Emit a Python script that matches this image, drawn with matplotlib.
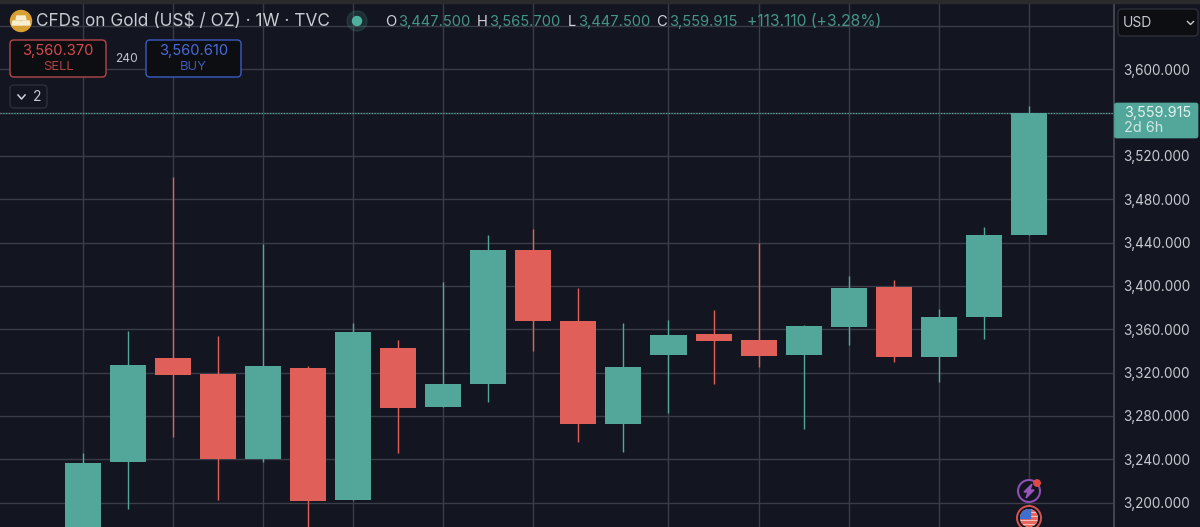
import matplotlib
matplotlib.use("Agg")
import matplotlib.pyplot as plt
from matplotlib.patches import Circle, FancyBboxPatch, Polygon, Rectangle

plt.rcParams['font.family'] = ['Inter', 'DejaVu Sans']

# weekly candles, oldest first (first open and sixth low run off the bottom of the chart)
opens = [3170.0, 3237.8, 3333.5, 3318.7, 3240.0, 3324.3, 3202.4, 3343.0, 3288.6, 3309.2, 3433.2,
         3367.4, 3272.9, 3336.3, 3355.2, 3349.8, 3336.3, 3361.8, 3398.8, 3334.7, 3371.0, 3447.5]
highs = [3245.5, 3358.2, 3500.9, 3353.8, 3438.7, 3326.1, 3365.5, 3350.1, 3403.7, 3447.0, 3452.6,
         3398.1, 3365.8, 3368.6, 3377.8, 3439.4, 3364.0, 3409.2, 3405.2, 3378.7, 3454.2, 3565.7]
lows = [3160.0, 3193.8, 3260.9, 3202.4, 3237.8, 3165.0, 3202.4, 3245.5, 3288.0, 3293.2, 3340.0,
        3255.7, 3247.0, 3282.5, 3309.8, 3325.2, 3268.2, 3345.2, 3329.8, 3311.6, 3351.0, 3447.5]
closes = [3236.9, 3326.8, 3318.1, 3240.0, 3326.1, 3201.2, 3357.5, 3287.8, 3309.2, 3433.2, 3367.4,
          3272.9, 3325.2, 3354.7, 3349.2, 3335.6, 3362.8, 3398.1, 3334.7, 3371.4, 3446.8, 3559.915]

price_ticks = [3200, 3240, 3280, 3320, 3360, 3400, 3440, 3480, 3520, 3560, 3600, 3640]
price_labels = ["3,200.000", "3,240.000", "3,280.000", "3,320.000", "3,360.000", "3,400.000",
                "3,440.000", "3,480.000", "3,520.000", "", "3,600.000", ""]
time_grid = [0, 2, 4, 6, 8, 10, 13, 15, 17, 19, 21]
last_price = 3559.915

BG = "#131621"
GRID = "#3a3d48"
TEAL = "#53a69a"
RED = "#e05f58"
TEXT = "#c8cad0"

fig = plt.figure(figsize=(12, 5.27), dpi=100, facecolor=BG)

# main chart, 1114px wide, top strip left out
ax = fig.add_axes([0, 0, 1114 / 1200, 524 / 527], facecolor=BG)
ax.set_xlim(-82.7 / 45.06, (1114 - 82.7) / 45.06)
ax.set_ylim(3177.5, 3661.2)

for i in range(len(opens)):
    color = TEAL if closes[i] >= opens[i] else RED
    ax.vlines(i, lows[i], highs[i], color=color, linewidth=1.0, zorder=3)
    ax.bar(i, abs(closes[i] - opens[i]), bottom=min(opens[i], closes[i]), width=0.8, color=color, zorder=4)

ax.axhline(last_price, color=TEAL, linewidth=0.9, linestyle=(0, (1, 1.2)), zorder=5)

ax.set_xticks(time_grid)
ax.set_xticklabels([])
ax.set_yticks(price_ticks)
ax.set_yticklabels(price_labels)
ax.yaxis.tick_right()
ax.tick_params(axis="both", length=0)
ax.tick_params(axis="y", labelsize=9.8, labelcolor=TEXT, pad=6.4)
ax.grid(True, color=GRID, linewidth=1.0, zorder=0)
ax.set_axisbelow(True)
for side in ["top", "left", "bottom"]:
    ax.spines[side].set_visible(False)
ax.spines["right"].set_color("#4b4e58")
ax.spines["right"].set_linewidth(1.2)

# overlay in pixel coordinates for the header, buttons and tags
ov = fig.add_axes([0, 0, 1, 1], facecolor="none")
ov.set_xlim(0, 1200)
ov.set_ylim(527, 0)
ov.axis("off")

ov.add_patch(Rectangle((0, 0), 1200, 3, color="#2b2b2e", zorder=1))


def box(x0, y0, x1, y1, edge, face="#0d0e12", lw=1.0):
    ov.add_patch(FancyBboxPatch((x0 + 3, y0 + 3), x1 - x0 - 6, y1 - y0 - 6, boxstyle="round,pad=3,rounding_size=4",
                                facecolor=face, edgecolor=edge, linewidth=lw, zorder=2))


# gold icon
ov.add_patch(Circle((21, 21), 10.5, color="#d9a033", zorder=2))
ov.add_patch(Polygon([(17, 16), (25, 16), (26, 19.5), (16, 19.5)], color="#f7edd0", zorder=3))
ov.add_patch(Polygon([(13, 21), (20, 21), (21, 25), (12, 25)], color="#f7edd0", zorder=3))
ov.add_patch(Polygon([(22, 21), (29, 21), (30, 25), (21, 25)], color="#f7edd0", zorder=3))

ov.text(36, 22, "CFDs on Gold (US$ / OZ) · 1W · TVC", color="#c9cbd1", fontsize=12.4, va="center", zorder=3)

# market open dot
ov.add_patch(Circle((357, 21), 10, color="#53a69a", alpha=0.16, zorder=2))
ov.add_patch(Circle((357, 21), 4.5, color="#4fb09f", zorder=3))

# OHLC line
for x, s in [(385, "O"), (477, "H"), (568, "L"), (656, "C")]:
    ov.text(x, 22, s, color="#d0d2d8", fontsize=10.6, va="center", zorder=3)
for x, s in [(398, "3,447.500"), (489, "3,565.700"), (578, "3,447.500"), (669, "3,559.915")]:
    ov.text(x, 22, s, color="#469488", fontsize=10.6, va="center", zorder=3)
ov.text(747, 22, "+113.110 (+3.28%)", color="#469488", fontsize=11.3, va="center", zorder=3)

# sell / buy buttons
box(10, 40, 106, 77, "#b5474a")
ov.text(58, 51, "3,560.370", color="#d8494d", fontsize=10.6, ha="center", va="center", zorder=3)
ov.text(58, 67, "SELL", color="#b04442", fontsize=9.4, ha="center", va="center", zorder=3)
ov.text(126, 59, "240", color="#c4c6cc", fontsize=8.6, ha="center", va="center", zorder=3)
box(146, 40, 241, 77, "#3a5bc4")
ov.text(193.5, 51, "3,560.610", color="#4a6cdc", fontsize=10.6, ha="center", va="center", zorder=3)
ov.text(193.5, 67, "BUY", color="#3d59b8", fontsize=9.4, ha="center", va="center", zorder=3)

# collapsed indicators
box(10, 85, 47, 108, "#2c2f38", face=BG)
ov.plot([18, 21.5, 25], [95, 99, 95], color="#d0d2d8", linewidth=1.1, zorder=3)
ov.text(37, 97, "2", color="#c8cad0", fontsize=10, ha="center", va="center", zorder=3)

# currency picker
box(1118, 9, 1198, 36, "#2c2f38", face="#0d0e12")
ov.text(1122.5, 23, "USD", color="#c8cad0", fontsize=10, va="center", zorder=3)
ov.plot([1187.5, 1190.5, 1193.5], [21.5, 24.5, 21.5], color="#c8cad0", linewidth=1.0, zorder=3)

# last price tag
ov.add_patch(FancyBboxPatch((1115.5, 104), 81.5, 33, boxstyle="round,pad=1,rounding_size=2", facecolor=TEAL,
                            edgecolor=TEAL, linewidth=0.5, zorder=2))
ov.text(1124, 112.5, "3,559.915", color="#e3f2ef", fontsize=10.4, va="center", zorder=3)
ov.text(1124, 128, "2d 6h", color="#cfe8e3", fontsize=10.4, va="center", zorder=3)

# event markers
ov.add_patch(Circle((1029, 491), 11, facecolor=BG, edgecolor="#8f4fb0", linewidth=1.5, zorder=3))
ov.add_patch(Polygon([(1032, 484), (1024, 492), (1028, 492), (1026, 498), (1034, 490), (1030, 490)],
                     color="#9a55bd", zorder=4))
ov.add_patch(Circle((1037, 483), 3.2, color="#e04848", zorder=5))

ov.add_patch(Circle((1029, 518), 12, facecolor=BG, edgecolor="#d9534f", linewidth=1.4, zorder=3))
flag = Circle((1029, 518), 9, transform=ov.transData)
for k in range(5):
    stripe = Rectangle((1019, 509 + k * 4), 20, 2, color="#e9675f", zorder=5)
    ov.add_patch(stripe)
    stripe.set_clip_path(flag)
base = Rectangle((1019, 509), 20, 18, color="#f1f2f4", zorder=4)
ov.add_patch(base)
base.set_clip_path(flag)
canton = Rectangle((1019, 509), 11, 9, color="#3d6fd1", zorder=6)
ov.add_patch(canton)
canton.set_clip_path(flag)

fig.savefig("out.png", dpi=100, facecolor=fig.get_facecolor())
